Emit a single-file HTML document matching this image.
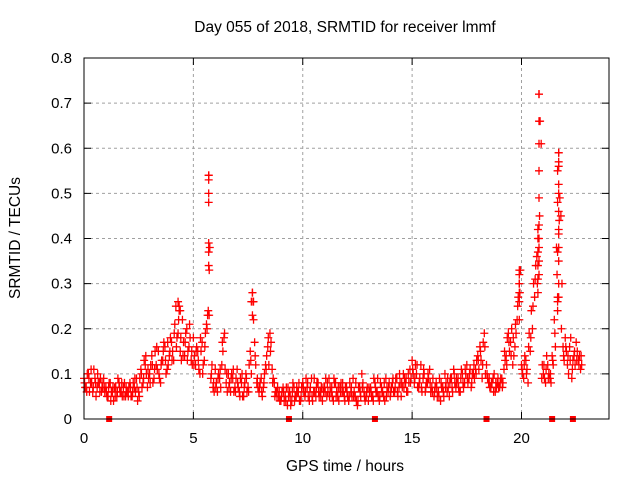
<!DOCTYPE html>
<html><head><meta charset="utf-8"><style>
body{margin:0;background:#fff}
svg{display:block;font-family:"Liberation Sans",sans-serif}
</style></head><body>
<svg id="chart" width="640" height="480">
<text x="345" y="32" text-anchor="middle" font-size="15.5">Day 055 of 2018, SRMTID for receiver lmmf</text>
<text transform="translate(20,238) rotate(-90)" text-anchor="middle" font-size="15.5">SRMTID / TECUs</text>
<text x="345" y="471" text-anchor="middle" font-size="15.5">GPS time / hours</text>
<g id="grid"></g>
<g id="ticks"></g>
<g id="marks"></g>
<rect x="84" y="58" width="525" height="361" fill="none" stroke="#000" stroke-width="1"/>
</svg>
<script>
const xTicks=[0,5,10,15,20];
const yTicks=[0,0.1,0.2,0.3,0.4,0.5,0.6,0.7,0.8];
const yTickLabels=["0","0.1","0.2","0.3","0.4","0.5","0.6","0.7","0.8"];
const stepHours=0.1;
const seriesA=[
.09,.07,.10,.08,.06,.09,.07,.08,.06,.09,
.07,.05,.08,.06,.07,.05,.08,.06,.07,.05,
.06,.08,.05,.07,.09,.06,.11,.08,.12,.07,
.10,.14,.09,.12,.15,.08,.13,.16,.11,.14,
.17,.13,.25,.19,.15,.22,.14,.20,.16,.13,
.18,.12,.15,.10,.17,.13,.21,.54,.09,.07,
.11,.06,.09,.12,.18,.08,.10,.06,.09,.07,
.11,.06,.08,.05,.10,.07,.15,.28,.17,.08,
.06,.09,.07,.12,.16,.19,.11,.08,.06,.05,
.04,.07,.05,.03,.06,.04,.07,.05,.06,.04,
.08,.05,.07,.04,.09,.06,.05,.08,.06,.04,
.07,.05,.09,.06,.04,.08,.05,.07,.06,.05,
.07,.04,.06,.09,.05,.03,.07,.10,.06,.05,
.04,.07,.05,.08,.06,.04,.07,.05,.09,.06,
.05,.08,.06,.09,.07,.05,.10,.08,.06,.11,
.13,.08,.10,.07,.12,.09,.06,.08,.11,.07,
.05,.08,.06,.04,.07,.10,.06,.05,.09,.11,
.07,.09,.06,.10,.08,.12,.09,.07,.10,.11,
.14,.16,.09,.19,.12,.08,.07,.09,.06,.08,
.07,.09,.11,.14,.19,.17,.12,.16,.22,.30,
.12,.09,.13,.08,.15,.20,.27,.36,.72,.61,
.10,.08,.12,.09,.14,.22,.38,.59,.45,.16,
.18,.12,.16,.09,.14,.17,.13,.11];
const seriesB=[
.07,.10,.06,.08,.11,.05,.08,.09,.07,.06,
.05,.08,.06,.04,.07,.09,.06,.05,.08,.06,
.07,.05,.08,.06,.04,.09,.07,.13,.10,.09,
.12,.08,.15,.11,.09,.13,.17,.10,.12,.18,
.15,.21,.18,.24,.13,.17,.19,.15,.18,.12,
.14,.16,.11,.15,.12,.19,.23,.38,.12,.06,
.08,.10,.07,.15,.11,.06,.08,.10,.06,.09,
.07,.09,.05,.08,.06,.12,.10,.22,.12,.07,
.08,.05,.10,.14,.12,.17,.09,.06,.07,.04,
.06,.04,.07,.05,.03,.08,.05,.06,.04,.07,
.06,.09,.05,.07,.04,.06,.08,.05,.07,.06,
.09,.06,.07,.05,.08,.06,.04,.08,.06,.07,
.05,.08,.05,.06,.04,.07,.05,.08,.04,.07,
.06,.05,.09,.06,.05,.08,.06,.04,.07,.08,
.07,.06,.09,.05,.08,.07,.09,.06,.08,.09,
.10,.12,.07,.09,.06,.10,.08,.09,.06,.09,
.07,.05,.09,.07,.05,.08,.07,.09,.06,.08,
.08,.06,.11,.07,.10,.08,.11,.10,.09,.13,
.11,.13,.17,.10,.09,.07,.08,.10,.07,.07,
.09,.08,.13,.18,.15,.20,.14,.19,.27,.33,
.10,.14,.11,.19,.24,.30,.34,.42,.66,.12,
.09,.14,.10,.08,.12,.16,.27,.49,.30,.13,
.15,.10,.18,.13,.12,.15,.14,.12];
const seriesC=[
.08,.06,.09,.11,.07,.08,.10,.06,.08,.07,
.06,.07,.04,.07,.05,.06,.07,.08,.05,.07,
.05,.07,.06,.09,.07,.05,.10,.09,.14,.11,
.08,.12,.11,.16,.10,.12,.15,.13,.17,.15,
.13,.19,.16,.22,.18,.14,.17,.13,.21,.15,
.12,.15,.13,.18,.10,.16,.20,.33,.10,.08,
.07,.09,.11,.17,.19,.10,.07,.09,.11,.06,
.08,.05,.10,.07,.09,.06,.13,.26,.14,.09,
.07,.06,.08,.11,.18,.15,.08,.05,.05,.06,
.05,.06,.04,.07,.05,.06,.04,.07,.08,.05,
.07,.06,.08,.06,.05,.09,.07,.06,.05,.07,
.06,.08,.05,.07,.09,.05,.07,.06,.08,.04,
.06,.05,.07,.05,.08,.04,.06,.07,.05,.06,
.07,.06,.04,.07,.09,.05,.06,.08,.05,.07,
.06,.09,.07,.06,.10,.08,.07,.09,.10,.08,
.11,.09,.12,.08,.07,.11,.07,.10,.08,.06,
.06,.07,.05,.08,.06,.07,.09,.08,.07,.10,
.09,.07,.09,.08,.11,.09,.10,.08,.12,.10,
.13,.15,.12,.16,.10,.09,.08,.06,.08,.09,
.08,.07,.15,.12,.17,.14,.18,.21,.25,.28,
.11,.12,.10,.16,.18,.25,.31,.30,.45,.09,
.12,.11,.09,.10,.13,.19,.32,.44,.20,.14,
.16,.14,.13,.11,.15,.13,.12,.14];
const extraTimes=[5.7,5.7,5.7,5.7,5.7,5.7,5.7,5.68,5.72,
20.8,20.8,20.8,20.8,20.8,20.8,20.8,20.8,20.8,20.8,
20.75,20.75,20.75,20.75,20.75,
21.7,21.7,21.7,21.7,21.7,21.7,21.7,21.7,21.7,21.7,21.7,21.7,
21.65,21.65,21.65,21.65,21.65,
19.9,19.9,19.9,19.9,19.9,19.9,
4.3,4.35,4.4,7.7,7.75,7.65,7.7];
const extraValues=[.54,.53,.50,.48,.39,.37,.34,.24,.23,
.72,.66,.61,.55,.49,.43,.40,.38,.35,.32,
.40,.37,.34,.31,.28,
.59,.57,.56,.52,.50,.46,.42,.41,.38,.35,.30,.27,
.55,.48,.37,.26,.24,
.33,.32,.30,.28,.26,.22,
.26,.25,.24,.28,.26,.26,.23];
const gapTimes=[1.15,9.37,13.3,18.4,21.4,22.35];

const NS="http://www.w3.org/2000/svg";
const X0=84,X1=609,Y0=419,Y1=58,XMAX=24,YMAX=0.8;
function sx(v){return X0+(X1-X0)*v/XMAX;}
function sy(v){return Y0-(Y0-Y1)*v/YMAX;}
function mk(tag,attrs,parent){const e=document.createElementNS(NS,tag);for(const k in attrs)e.setAttribute(k,attrs[k]);parent.appendChild(e);return e;}
const grid=document.getElementById('grid'),ticks=document.getElementById('ticks'),marks=document.getElementById('marks');
yTicks.forEach((v,i)=>{
  const y=sy(v);
  if(i>0&&i<yTicks.length-1){const g=mk('line',{x1:X0,x2:X1,y1:y,y2:y,stroke:'#a0a0a0','stroke-dasharray':'3,3'},grid);
  
  }
  mk('line',{x1:X0,x2:X0+7,y1:y,y2:y,stroke:'#000'},ticks);
  mk('line',{x1:X1,x2:X1-7,y1:y,y2:y,stroke:'#000'},ticks);
  const t=mk('text',{x:X0-12,y:y+5,'text-anchor':'end','font-size':15},ticks);
  t.textContent=yTickLabels[i];
  
  
});
xTicks.forEach(v=>{
  const x=sx(v);
  if(v>0){const g=mk('line',{x1:x,x2:x,y1:Y0,y2:Y1,stroke:'#a0a0a0','stroke-dasharray':'3,3'},grid);
  
  }
  mk('line',{x1:x,x2:x,y1:Y0,y2:Y0-7,stroke:'#000'},ticks);
  mk('line',{x1:x,x2:x,y1:Y1,y2:Y1+7,stroke:'#000'},ticks);
  const t=mk('text',{x:x,y:Y0+24,'text-anchor':'middle','font-size':15},ticks);
  t.textContent=String(v);
  
  
});
function plus(x,y,name){
  const p=mk('path',{d:`M${x-4},${y}h8M${x},${y-4}v8`,stroke:'#ff0000','stroke-width':1.3,fill:'none'},marks);
  
  
}
seriesA.forEach((v,i)=>plus(sx(i*stepHours),sy(v),'point-a'));
seriesB.forEach((v,i)=>plus(sx(i*stepHours+stepHours/2),sy(v),'point-b'));
seriesC.forEach((v,i)=>plus(sx(i*stepHours+stepHours/4),sy(v),'point-c'));
extraValues.forEach((v,i)=>plus(sx(extraTimes[i]),sy(v),'point-extra'));
gapTimes.forEach(t=>{
  const r=mk('rect',{x:sx(t)-3,y:Y0-3,width:6,height:6,fill:'#ff0000'},marks);
  
  
});
</script>
</body></html>
